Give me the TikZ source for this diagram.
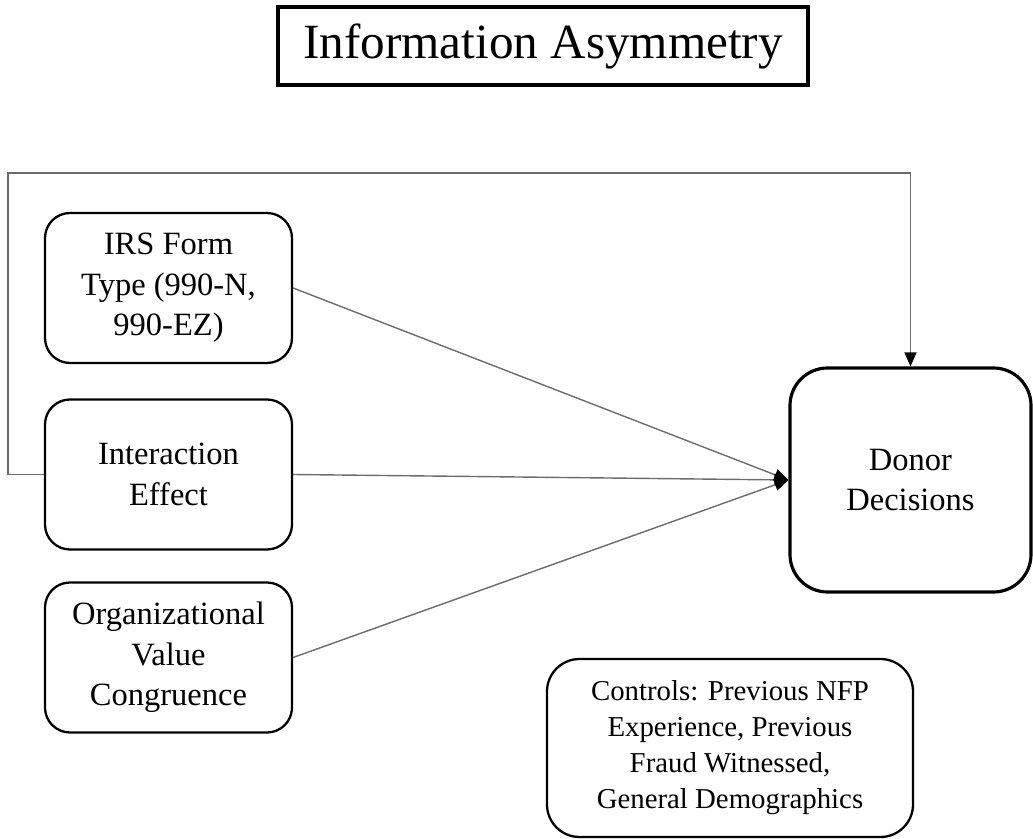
\documentclass[tikz,border=0pt]{standalone}
\usepackage{fontspec}
\setmainfont{Liberation Serif}
\usetikzlibrary{arrows.meta}
\tikzset{
  varbox/.style={draw, rounded corners=0.5cm, line width=1.3pt, align=center, inner sep=0pt,
    minimum width=4.94cm, minimum height=3cm, font=\fontsize{18.5}{23}\selectfont},
  link/.style={draw=gray!85!black, line width=0.8pt,
    -{Triangle[length=0.28cm,width=0.24cm,color=black,fill=black]}}
}

\begin{document}
\begin{tikzpicture}
\useasboundingbox (0,0) rectangle (20.66,-16.78);

\node[draw, line width=2.2pt, minimum width=10.6cm, minimum height=1.56cm, font=\fontsize{28}{34}\selectfont] (title) at (10.86,-0.92) {Information Asymmetry};

\node[varbox] (irs) at (3.37,-5.76) {IRS Form\\Type (990-N,\\990-EZ)};
\node[varbox] (inter) at (3.37,-9.49) {Interaction\\Effect};
\node[varbox] (org) at (3.37,-13.15) {Organizational\\Value\\Congruence};

\node[varbox, rounded corners=0.75cm, line width=1.8pt, minimum width=4.82cm, minimum height=4.48cm] (donor) at (18.21,-9.6) {Donor\\Decisions};
\node[varbox, rounded corners=0.65cm, minimum width=7.32cm, minimum height=3.56cm, font=\fontsize{16.4}{20.5}\selectfont] (controls) at (14.6,-14.96) {Controls: Previous NFP\\Experience, Previous\\Fraud Witnessed,\\General Demographics};

\coordinate (loop) at (0.16,-3.46);

\foreach \src in {irs, inter, org}
	{\draw[link] (\src.east) -- (donor.west);}
\draw[link] (inter.west) -| (loop) -| (donor.north);

\end{tikzpicture}
\end{document}
